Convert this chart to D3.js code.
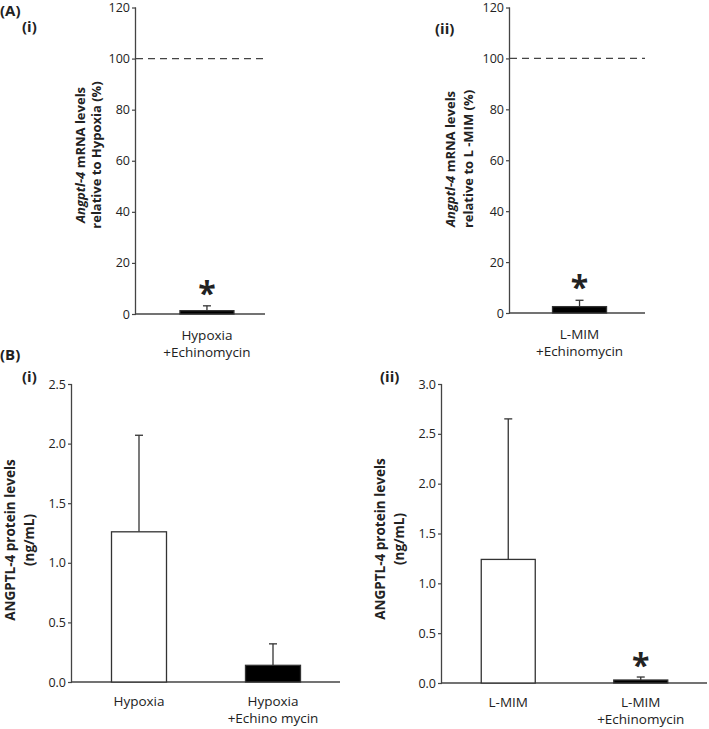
<!DOCTYPE html>
<html><head><meta charset="utf-8">
<script src="https://cdn.jsdelivr.net/npm/d3@7"></script>
<style>
body{margin:0;background:#fff;}
svg text{font-family:"Open Sans",sans-serif;fill:#222;}
</style></head>
<body>
<svg id="c" width="709" height="729"></svg>
<script>
// ---- data ----
const aiCategories = ["Hypoxia\n+Echinomycin"];
const aiValues = [1.3];
const aiErrors = [1.9];
const aiTicks = [0, 20, 40, 60, 80, 100, 120];
const aiReference = 100;

const aiiCategories = ["L-MIM\n+Echinomycin"];
const aiiValues = [2.5];
const aiiErrors = [2.5];
const aiiTicks = [0, 20, 40, 60, 80, 100, 120];
const aiiReference = 100;

const biCategories = ["Hypoxia", "Hypoxia\n+Echino mycin"];
const biValues = [1.26, 0.14];
const biErrors = [0.81, 0.18];
const biTicks = [0, 0.5, 1.0, 1.5, 2.0, 2.5];

const biiCategories = ["L-MIM", "L-MIM\n+Echinomycin"];
const biiValues = [1.24, 0.03];
const biiErrors = [1.41, 0.03];
const biiTicks = [0, 0.5, 1.0, 1.5, 2.0, 2.5, 3.0];

const fills = ["#fff", "#000"];

const svg = d3.select("#c");

function panel(o) {
  const g = svg.append("g");
  const y = d3.scaleLinear().domain([0, o.ticks[o.ticks.length - 1]]).range([o.y0, o.y1]);
  const x = d3.scalePoint().domain(o.cats).range([o.x0, o.x1]).padding(0.5).align(o.align || 0.5);
  // y axis
  const ax = g.append("g").attr("transform", `translate(${o.x0},0)`)
    .call(d3.axisLeft(y).tickValues(o.ticks).tickSize(4).tickPadding(2).tickFormat(o.fmt));
  ax.select(".domain").attr("stroke", "#444").attr("stroke-width", 1.3).attr("d", `M-0.5,${o.y0}V${o.y1}`);
  ax.selectAll(".tick line").attr("stroke", "#444").attr("stroke-width", 1.2);
  ax.selectAll(".tick text").attr("font-size", 12.5).attr("font-family", "'Open Sans',sans-serif").attr("fill", "#222");
  // x axis line
  g.append("line").attr("x1", o.x0).attr("x2", o.x1).attr("y1", y(0)).attr("y2", y(0))
    .attr("stroke", "#444").attr("stroke-width", 1.3);
  // reference dashed line
  if (o.ref != null) {
    g.append("line").attr("x1", o.x0).attr("x2", o.x1).attr("y1", y(o.ref)).attr("y2", y(o.ref))
      .attr("stroke", "#444").attr("stroke-width", 1.2).attr("stroke-dasharray", "7,5");
  }
  const bw = o.bw;
  o.cats.forEach((c, i) => {
    const cx = x(c);
    const v = o.vals[i], e = o.errs[i];
    // error bar
    g.append("line").attr("x1", cx).attr("x2", cx).attr("y1", y(v)).attr("y2", y(v + e))
      .attr("stroke", "#333").attr("stroke-width", 1.3);
    g.append("line").attr("x1", cx - 4).attr("x2", cx + 4).attr("y1", y(v + e)).attr("y2", y(v + e))
      .attr("stroke", "#333").attr("stroke-width", 1.3);
    g.append("rect").attr("x", cx - bw / 2).attr("width", bw).attr("y", y(v)).attr("height", y(0) - y(v))
      .attr("fill", o.fills[i]).attr("stroke", "#333").attr("stroke-width", 1.3);
    if (o.star[i]) {
      g.append("text").attr("x", cx).attr("y", y(v + e) - o.starGap).attr("text-anchor", "middle")
        .attr("font-size", 32).attr("font-weight", 700).attr("fill", "#111").text("*");
    }
    // category label
    const lines = c.split("\n");
    lines.forEach((t, j) => {
      g.append("text").attr("x", cx).attr("y", y(0) + o.lab0 + j * 17).attr("text-anchor", "middle")
        .attr("font-size", 13.5).text(t);
    });
  });
  // y label
  const yl = g.append("g").attr("transform", `translate(${o.lx},${o.ly}) rotate(-90)`);
  o.ylab.forEach((ln, j) => {
    const t = yl.append("text").attr("x", 0).attr("y", j * o.lgap).attr("text-anchor", "middle")
      .attr("font-size", o.lfs).attr("font-weight", 700);
    ln.forEach(seg => t.append("tspan").attr("font-style", seg.i ? "italic" : "normal").text(seg.t));
  });
  // panel labels
  o.labels.forEach(l => {
    svg.append("text").attr("x", l.x).attr("y", l.y).attr("font-size", 15).attr("font-weight", 700).text(l.t);
  });
}

panel({cats: aiCategories, vals: aiValues, errs: aiErrors, ticks: aiTicks, ref: aiReference,
  fmt: d3.format("d"), x0: 136, x1: 265, y0: 314, y1: 7.5, align: 0.55, bw: 54, fills: ["#000"], star: [true], starGap: 1,
  lx: 85, ly: 155, lgap: 16, lfs: 13, lab0: 26,
  ylab: [[{t: "Angptl-4", i: true}, {t: " mRNA levels"}], [{t: "relative to Hypoxia (%)"}]],
  labels: [{t: "(A)", x: 0, y: 16}, {t: "(i)", x: 22, y: 32}]});

panel({cats: aiiCategories, vals: aiiValues, errs: aiiErrors, ticks: aiiTicks, ref: aiiReference,
  fmt: d3.format("d"), x0: 510, x1: 645, y0: 313, y1: 7.5, align: 0.515, bw: 54, fills: ["#000"], star: [true], starGap: 1,
  lx: 455, ly: 159, lgap: 18, lfs: 13, lab0: 26,
  ylab: [[{t: "Angptl-4", i: true}, {t: " mRNA levels"}], [{t: "relative to L -MIM (%)"}]],
  labels: [{t: "(ii)", x: 435, y: 34}]});

panel({cats: biCategories, vals: biValues, errs: biErrors, ticks: biTicks, ref: null,
  fmt: d3.format(".1f"), x0: 72, x1: 340, y0: 682, y1: 384, bw: 55, fills: fills, star: [false, false], starGap: 0,
  lx: 15, ly: 540, lgap: 19, lfs: 13.5, lab0: 24,
  ylab: [[{t: "ANGPTL-4 protein levels"}], [{t: "(ng/mL)"}]],
  labels: [{t: "(B)", x: 0, y: 360}, {t: "(i)", x: 22, y: 382}]});

panel({cats: biiCategories, vals: biiValues, errs: biiErrors, ticks: biiTicks, ref: null,
  fmt: d3.format(".1f"), x0: 442, x1: 707, y0: 683, y1: 384, bw: 54, fills: fills, star: [false, true], starGap: 0,
  lx: 385, ly: 539, lgap: 19, lfs: 13.5, lab0: 24,
  ylab: [[{t: "ANGPTL-4 protein levels"}], [{t: "(ng/mL)"}]],
  labels: [{t: "(ii)", x: 380, y: 382}]});
</script>
</body></html>
